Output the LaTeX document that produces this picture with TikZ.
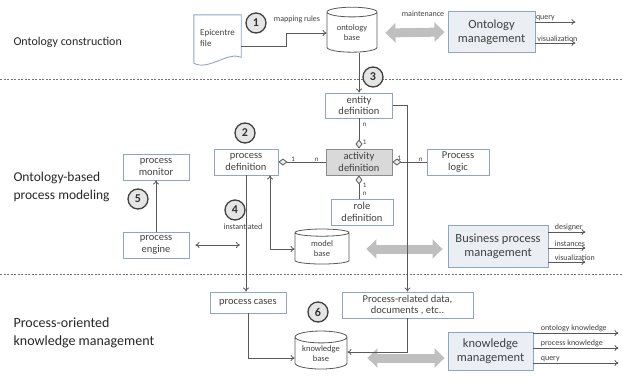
\documentclass[tikz,border=0pt]{standalone}
\usepackage{fontspec}
\setmainfont{Carlito}
\usepackage{tikz}
\usepackage{xcolor}
\usetikzlibrary{arrows.meta, shapes, calc, positioning}
\definecolor{boxblue}{RGB}{140,165,200}
\definecolor{mgfill}{RGB}{235,239,244}
\definecolor{linegray}{RGB}{89,89,89}
\definecolor{arrgray}{RGB}{191,191,191}
\definecolor{txtgray}{RGB}{64,64,64}
\tikzset{
    defbox/.style={draw=boxblue, line width=0.9pt, fill=white, minimum width=64pt, minimum height=26pt, inner sep=1pt, align=center, text=txtgray, font=\fontsize{10.5}{11.5}\selectfont},
    actbox/.style={defbox, fill=black!15, draw=black!45},
    mgbox/.style={draw=boxblue, fill=mgfill, line width=0.9pt, inner sep=2pt, align=center, text=txtgray, font=\fontsize{12.5}{14}\selectfont},
    dbase/.style={cylinder, shape border rotate=90, aspect=0.3, draw=linegray, line width=0.8pt, fill=white, align=center, inner sep=1pt, text=txtgray, font=\fontsize{8.5}{10}\selectfont},
    stepno/.style={circle, draw=black!75, line width=1.3pt, fill=black!10, minimum size=20pt, inner sep=0pt, font=\bfseries\fontsize{12}{12}\selectfont, text=black!80},
    conn/.style={draw=linegray, line width=0.8pt, >={To[length=4pt,width=6pt]}},
    agg/.style={conn, {Diamond[fill=black!8, length=9pt, width=7pt]}-},
    bigarr/.style={draw=arrgray, line width=9pt, {Triangle[length=10pt,width=19pt]}-{Triangle[length=10pt,width=19pt]}},
    lbl/.style={inner sep=1pt, text=txtgray, font=\fontsize{8}{9}\selectfont},
    tinylbl/.style={inner sep=0.5pt, text=txtgray, font=\fontsize{7}{8}\selectfont},
    layer/.style={anchor=west, align=left, text=black!85, font=\fontsize{13.5}{17.5}\selectfont},
    sep/.style={draw=black!55, line width=0.7pt, dash pattern=on 2pt off 1.5pt}
}
\begin{document}
\begin{tikzpicture}[x=1pt, y=-1pt]
    \useasboundingbox (0,0) rectangle (623,378);
    \draw[sep] (0,79) -- (623,79);
    \draw[sep] (0,274) -- (623,274);
    \node[layer, font=\fontsize{12}{14}\selectfont] (lconst) at (10,42) {Ontology construction};
    \node[layer] (lmodel) at (10,187) {Ontology-based\\process modeling};
    \node[layer, font=\fontsize{14}{17.5}\selectfont] (lknow) at (10,333) {Process-oriented\\knowledge management};

    \node[inner sep=0pt, minimum width=47pt, minimum height=46pt, align=left, text=txtgray, font=\fontsize{9}{11}\selectfont] (efile) at (217.5,38) {Epicentre\\file};
    \draw[draw=boxblue, line width=0.9pt] (efile.north west) -- (efile.north east) -- ([yshift=4pt]efile.south east)
        .. controls +(-13,-6) and +(14,8) .. ([yshift=-2pt]efile.south west) -- cycle;
    \node[stepno] (n1) at (256,23) {1};
    \node[dbase, minimum width=50pt, minimum height=45pt] (obase) at (352,33) {ontology\\base};
    \draw[conn,->] ([yshift=-8pt]efile.east) -| ([xshift=-40pt]obase.west) -- (obase.west);
    \node[lbl] (maprule) at (297,19) {mapping rules};
    \node[mgbox, minimum width=87pt, minimum height=41pt] (omgmt) at (491.5,32) {Ontology\\management};
    \draw[bigarr] ([xshift=8pt]obase.east) -- ([xshift=-3pt]omgmt.west);
    \node[lbl] (maint) at (423,14) {maintenance};
    \draw[conn,->] ([yshift=10pt]omgmt.east) -- +(40,0) node[lbl, pos=0.25, above] {query};
    \draw[conn,->] ([yshift=-11pt]omgmt.east) -- +(40,0) node[lbl, pos=0.55, above] {visualization};
    \node[stepno] (n3) at (373,77) {3};

    \node[defbox, minimum width=67pt, minimum height=25pt] (entity) at (359,105.5) {entity\\definition};
    \draw[conn,->] (entity.north |- obase.south) -- (entity.north);
    \node[actbox, minimum width=66pt] (activity) at (359,162) {activity\\definition};
    \node[defbox, minimum width=62pt] (logic) at (458,162) {Process\\logic};
    \node[defbox, minimum width=62pt] (role) at (362,212) {role\\definition};
    \node[defbox] (procdef) at (246,162) {process\\definition};
    \node[defbox, minimum width=66pt] (monitor) at (156,167) {process\\monitor};
    \node[defbox, minimum width=66pt] (engine) at (156,245) {process\\engine};
    \coordinate (inst) at (240,245);
    \node[stepno] (n2) at (245,133) {2};
    \node[stepno] (n4) at (235,210) {4};
    \node[stepno] (n5) at (138,199) {5};
    \node[lbl] (instl) at (243,227) {instantiated};

    \draw[agg] (procdef.east) -- (activity.west) node[tinylbl, pos=0.31, above] {1} node[tinylbl, pos=0.81, above] {n};
    \draw[agg] (activity.north) -- (entity.south) node[tinylbl, pos=0.2, right, xshift=3pt] {1} node[tinylbl, pos=0.8, right, xshift=3pt] {n};
    \draw[agg] (activity.east) -- (logic.west) node[tinylbl, pos=0.2, above, yshift=1pt] {1} node[tinylbl, pos=0.83, above] {n};
    \draw[agg] (activity.south) -- (activity.south |- role.north) node[tinylbl, pos=0.42, right, xshift=3pt] {1} node[tinylbl, pos=0.79, right, xshift=3pt] {n};

    \node[dbase, minimum width=54pt, minimum height=35pt] (mbase) at (322,249) {model\\base};
    \node[mgbox, minimum width=100pt, minimum height=42pt] (bpm) at (498,246) {Business process\\management};
    \draw[bigarr] ([xshift=17pt]mbase.east) -- ($(bpm.west |- mbase.east)+(-5,0)$);
    \draw[conn,->] ([yshift=14pt]bpm.east) -- +(37,0) node[lbl, anchor=south west, pos=0, xshift=5pt] {designer};
    \draw[conn,->] ([yshift=-2pt]bpm.east) -- +(37,0) node[lbl, anchor=south west, pos=0, xshift=5pt] {instances};
    \draw[conn,->] ([yshift=-16pt]bpm.east) -- +(37,0) node[lbl, anchor=south west, pos=0, xshift=5pt] {visualization};

    \node[defbox, minimum width=76pt, minimum height=21pt] (pcases) at (248,302.5) {process cases};
    \node[defbox, minimum width=131pt, minimum height=26pt] (prd) at (407.5,305) {Process-related data,\\documents , etc..};
    \node[stepno] (n6) at (318,312) {6};
    \node[dbase, minimum width=52pt, minimum height=38pt] (kbase) at (321,354) {knowledge\\base};
    \node[mgbox, minimum width=85pt, minimum height=38pt] (kmgmt) at (490.5,351) {knowledge\\management};
    \draw[bigarr] ([xshift=20pt,yshift=-4pt]kbase.east) -- ($(kmgmt.west |- kbase.east)+(-3,4)$);
    \draw[conn,->] ([yshift=18pt]kmgmt.east) -- +(85,0) node[lbl, anchor=south west, pos=0, xshift=6pt] {ontology knowledge};
    \draw[conn,->] ([yshift=3pt]kmgmt.east) -- +(85,0) node[lbl, anchor=south west, pos=0, xshift=6pt] {process knowledge};
    \draw[conn,->] ([yshift=-12pt]kmgmt.east) -- +(85,0) node[lbl, anchor=south west, pos=0, xshift=6pt] {query};

    \draw[conn,->] (entity.east) -| (prd.north);
    \draw[conn,->] (procdef.south) -- (procdef.south |- pcases.north);
    \draw[conn,<->] ([xshift=24pt]procdef.south) |- (mbase.west);
    \draw[conn,->] (engine.north) -- (monitor.south);
    \draw[conn,<->] ([xshift=6pt]engine.east) -- (inst);
    \draw[conn,->] (pcases.south) |- ([yshift=-4pt]kbase.west);
    \draw[conn,->] (prd.south) |- ([yshift=2pt]kbase.east);
\end{tikzpicture}
\end{document}
